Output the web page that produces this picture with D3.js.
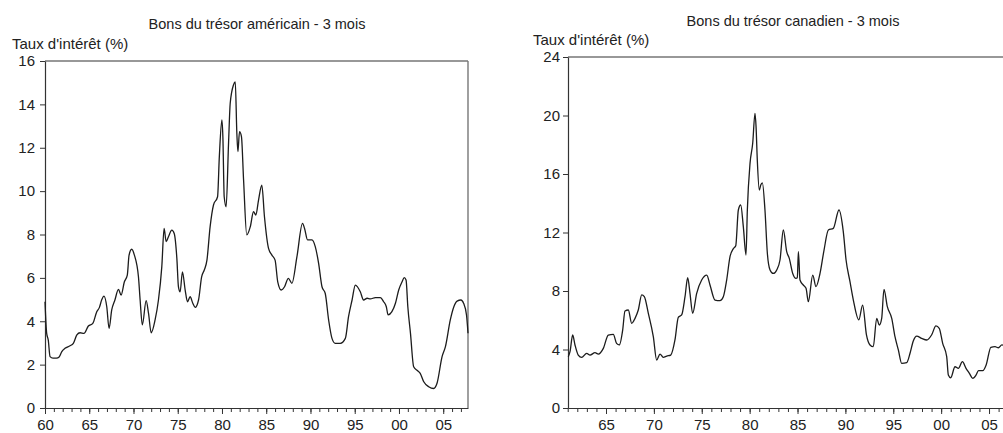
<!DOCTYPE html>
<html><head><meta charset="utf-8">
<script src="https://cdn.jsdelivr.net/npm/d3@7"></script>
<style>
body{margin:0;background:#fff;}
svg{display:block;font-family:"Liberation Sans",Arial,sans-serif;}
</style></head>
<body>
<svg id="c" width="1003" height="433"></svg>
<script>
// ---- Data ----
const usYears = [1960.0,1960.19,1960.37,1960.57,1960.9,1961.3,1961.6,1961.9,1962.26,1962.83,1963.2,1963.6,1963.96,1964.4,1964.9,1965.4,1965.85,1966.15,1966.4,1966.67,1966.98,1967.24,1967.54,1967.9,1968.3,1968.6,1968.97,1969.3,1969.5,1969.8,1970.1,1970.56,1970.75,1971.0,1971.43,1971.7,1972.0,1972.44,1972.82,1973.2,1973.46,1973.69,1973.95,1974.33,1974.6,1974.9,1975.08,1975.27,1975.53,1975.84,1976.1,1976.4,1976.7,1976.97,1977.35,1977.7,1978.0,1978.3,1978.66,1979.04,1979.5,1979.7,1979.99,1980.1,1980.25,1980.47,1980.74,1980.93,1981.3,1981.5,1981.68,1981.8,1981.98,1982.2,1982.44,1982.8,1983.2,1983.56,1983.83,1984.13,1984.5,1984.8,1985.26,1985.64,1986.0,1986.3,1986.7,1987.07,1987.5,1987.9,1988.47,1989.1,1989.33,1989.67,1990.17,1990.54,1990.92,1991.3,1991.67,1992.05,1992.43,1992.8,1993.37,1993.94,1994.3,1994.7,1995.07,1995.63,1996.0,1996.4,1996.77,1997.33,1997.9,1998.27,1998.57,1998.77,1999.2,1999.6,1999.97,2000.35,2000.6,2000.8,2001.0,2001.3,2001.66,2002.1,2002.4,2002.8,2003.36,2003.92,2004.3,2004.87,2005.25,2005.8,2006.2,2006.57,2007.0,2007.3,2007.63,2007.8];
const usRates = [4.9,3.44,3.13,2.37,2.3,2.3,2.35,2.6,2.75,2.87,2.98,3.37,3.47,3.44,3.78,3.9,4.44,4.64,4.98,5.16,4.67,3.67,4.52,4.98,5.47,5.21,5.82,6.13,7.05,7.32,7.05,6.05,4.98,3.83,4.95,4.36,3.47,4.06,4.98,6.52,8.28,7.67,7.9,8.2,8.05,6.9,5.59,5.36,6.28,5.44,4.9,5.13,4.83,4.64,4.98,6.05,6.36,6.82,8.36,9.36,9.74,11.59,13.28,12.51,9.74,9.28,12.2,14.05,14.9,15.04,12.66,11.82,12.74,12.51,10.51,7.98,8.36,9.05,8.9,9.59,10.28,8.82,7.36,7.05,6.82,5.82,5.44,5.59,5.98,5.75,6.98,8.51,8.28,7.75,7.75,7.44,6.67,5.59,5.28,4.06,3.21,2.98,2.98,3.21,4.21,4.98,5.67,5.36,4.98,5.06,5.03,5.09,5.09,4.9,4.67,4.29,4.44,4.83,5.44,5.82,6.01,5.9,4.67,3.44,1.9,1.72,1.6,1.21,0.98,0.9,1.14,2.37,2.83,4.06,4.67,4.93,4.98,4.83,4.29,3.45];

const caYears = [1961.06,1961.24,1961.52,1961.76,1962.1,1962.46,1962.98,1963.33,1963.85,1964.2,1964.72,1965.24,1965.76,1966.1,1966.39,1966.74,1966.98,1967.33,1967.68,1968.03,1968.37,1968.73,1969.0,1969.42,1969.94,1970.29,1970.64,1970.98,1971.34,1971.76,1972.2,1972.55,1972.9,1973.25,1973.53,1973.77,1974.05,1974.47,1974.99,1975.52,1975.86,1976.38,1976.9,1977.25,1977.6,1977.95,1978.3,1978.55,1978.82,1979.07,1979.34,1979.62,1979.76,1980.04,1980.32,1980.56,1980.67,1980.8,1981.01,1981.16,1981.33,1981.6,1981.85,1982.13,1982.47,1982.83,1983.17,1983.52,1983.87,1984.14,1984.5,1984.84,1984.98,1985.09,1985.26,1985.6,1985.89,1986.13,1986.59,1986.93,1987.35,1987.77,1988.22,1988.74,1989.33,1989.78,1990.07,1990.48,1990.83,1991.4,1991.8,1992.2,1992.57,1992.91,1993.27,1993.54,1993.79,1994.03,1994.38,1994.84,1995.18,1995.53,1995.88,1996.4,1996.75,1997.1,1997.45,1997.97,1998.5,1999.0,1999.46,1999.8,2000.16,2000.58,2000.75,2001.0,2001.45,2001.8,2002.22,2002.6,2002.95,2003.3,2003.65,2003.9,2004.35,2004.7,2005.19,2005.63,2005.98,2006.34,2006.8];
const caRates = [3.51,3.85,4.99,4.31,3.62,3.46,3.74,3.62,3.78,3.69,4.08,4.99,5.04,4.42,4.31,5.33,6.63,6.7,5.79,6.13,6.7,7.73,7.61,6.47,4.88,3.28,3.69,3.46,3.55,3.62,4.65,6.2,6.36,7.61,8.91,7.84,6.47,7.84,8.75,9.09,8.41,7.38,7.34,7.61,8.75,10.35,10.9,11.1,13.54,13.88,12.4,10.46,13.54,16.73,18.1,20.15,19.24,16.96,14.9,15.25,15.4,13.54,10.58,9.44,9.2,9.44,10.12,12.17,10.69,10.23,9.2,8.86,8.9,10.69,8.75,8.41,8.18,7.27,9.09,8.3,9.2,10.8,12.17,12.28,13.54,12.06,10.12,8.64,7.38,6.02,7.04,5.0,4.31,4.19,6.13,5.67,6.13,8.11,6.93,6.13,4.88,3.97,3.05,3.1,3.74,4.6,4.92,4.76,4.65,4.99,5.61,5.45,4.42,3.51,2.26,2.07,2.82,2.71,3.17,2.71,2.37,2.03,2.26,2.55,2.55,2.94,4.15,4.19,4.12,4.31,4.2];

const usYTicks = [0,2,4,6,8,10,12,14,16];
const caYTicks = [0,4,8,12,16,20,24];
const usXLabels = [1960,1965,1970,1975,1980,1985,1990,1995,2000,2005];
const caXLabels = [1965,1970,1975,1980,1985,1990,1995,2000,2005];
const titles = ["Bons du trésor américain - 3 mois","Bons du trésor canadien - 3 mois"];
const yLabel = "Taux d'intérêt (%)";

// ---- Drawing ----
const svg = d3.select("#c");
const ink = "#1c1c1c";
const fmtYear = d => String(d % 100).padStart(2,"0");
const FONT = "Liberation Sans, Arial, sans-serif";

function panel(cfg){
  const g = svg.append("g");
  const x = d3.scaleLinear().domain(cfg.xDomain).range(cfg.xRange);
  const y = d3.scaleLinear().domain(cfg.yDomain).range(cfg.yRange);
  const [x0,x1] = cfg.xRange, [yb,yt] = cfg.yRange;

  // frame
  g.append("line").attr("x1",x0).attr("x2",cfg.frameRight).attr("y1",yt).attr("y2",yt)
    .attr("stroke","#333").attr("stroke-width",1.2);
  if (cfg.drawRight) g.append("line").attr("x1",x1).attr("x2",x1).attr("y1",yt).attr("y2",yb)
    .attr("stroke","#777").attr("stroke-width",1.4);

  // y axis
  const ya = g.append("g").attr("transform",`translate(${x0},0)`)
    .call(d3.axisLeft(y).tickValues(cfg.yTicks).tickSize(5).tickSizeOuter(0).tickPadding(cfg.yPad));
  ya.select(".domain").attr("stroke","#333").attr("stroke-width",1.2);
  ya.selectAll(".tick line").attr("stroke","#333");
  ya.selectAll("text").attr("font-size",15).attr("fill","#222").attr("font-family",FONT);

  // x axis minor ticks (every year)
  const minor = d3.range(cfg.minorStart, cfg.minorEnd+1);
  const xm = g.append("g").attr("transform",`translate(0,${yb})`)
    .call(d3.axisBottom(x).tickValues(minor).tickSize(4).tickFormat(""));
  xm.select(".domain").remove();
  xm.selectAll(".tick line").attr("stroke","#333");
  const xa = g.append("g").attr("transform",`translate(0,${yb})`)
    .call(d3.axisBottom(x).tickValues(cfg.xLabels).tickSize(6).tickSizeOuter(0).tickPadding(5).tickFormat(fmtYear));
  xa.select(".domain").attr("stroke","#333").attr("stroke-width",1.2);
  xa.selectAll(".tick line").attr("stroke","#333");
  xa.selectAll("text").attr("font-size",15).attr("fill","#222").attr("font-family",FONT);

  // line
  const data = cfg.years.map((t,i)=>[t,cfg.rates[i]]);
  g.append("path").datum(data)
    .attr("fill","none").attr("stroke",ink).attr("stroke-width",1.3).attr("stroke-linejoin","round")
    .attr("d", d3.line().x(d=>x(d[0])).y(d=>y(d[1])).curve(d3.curveMonotoneX));

  // texts
  g.append("text").attr("x",cfg.titleX).attr("y",cfg.titleY).attr("text-anchor","middle")
    .attr("font-size",14.5).attr("fill","#222").text(cfg.title);
  g.append("text").attr("x",cfg.labelX).attr("y",cfg.labelY)
    .attr("font-size",15).attr("fill","#222").text(yLabel);
}

panel({
  years: usYears, rates: usRates,
  xDomain:[1960,2007.8], xRange:[45,468], yDomain:[0,16], yRange:[408,61],
  yTicks: usYTicks, yPad:5, xLabels: usXLabels, minorStart:1960, minorEnd:2007,
  frameRight:468, drawRight:true,
  title: titles[0], titleX:257, titleY:29, labelX:12, labelY:49
});
panel({
  years: caYears, rates: caRates,
  xDomain:[1961.03,2006.46], xRange:[568,1003], yDomain:[0,24], yRange:[408,57],
  yTicks: caYTicks, yPad:3, xLabels: caXLabels, minorStart:1961, minorEnd:2006,
  frameRight:1003, drawRight:false,
  title: titles[1], titleX:793, titleY:26, labelX:533, labelY:45
});
</script>
</body></html>
